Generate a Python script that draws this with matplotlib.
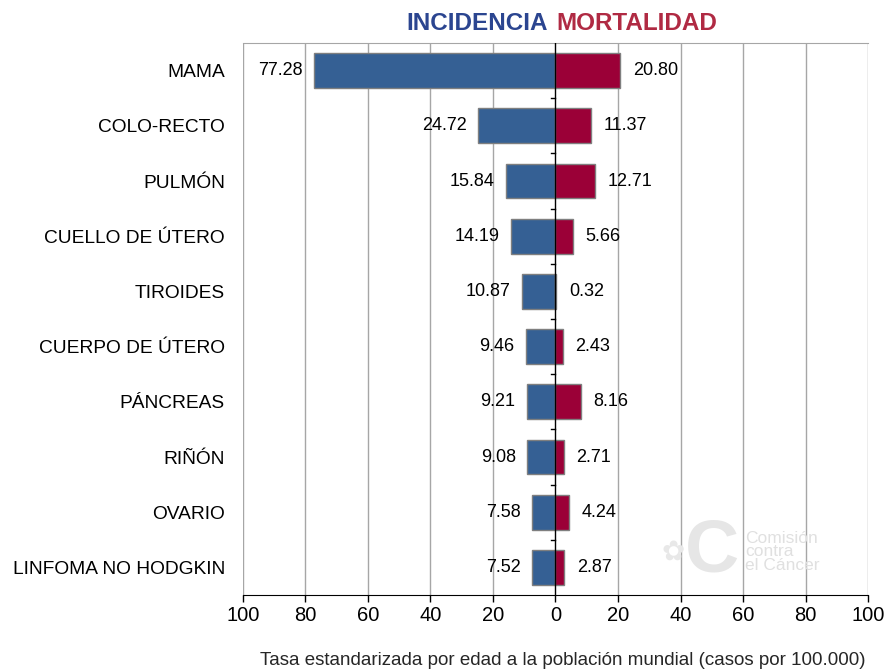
import matplotlib

matplotlib.use("Agg")
import matplotlib.pyplot as plt
import numpy as np

plt.rcParams["font.family"] = ["Liberation Sans", "DejaVu Sans"]

cancers = [
    "MAMA", "COLO-RECTO", "PULMÓN", "CUELLO DE ÚTERO", "TIROIDES",
    "CUERPO DE ÚTERO", "PÁNCREAS", "RIÑÓN", "OVARIO", "LINFOMA NO HODGKIN",
]
incidencia = [77.28, 24.72, 15.84, 14.19, 10.87, 9.46, 9.21, 9.08, 7.58, 7.52]
mortalidad = [20.80, 11.37, 12.71, 5.66, 0.32, 2.43, 8.16, 2.71, 4.24, 2.87]
xticks = [-100, -80, -60, -40, -20, 0, 20, 40, 60, 80, 100]

blue = "#356094"
red = "#9b0037"

fig = plt.figure(figsize=(8.89, 6.69), dpi=100)
ax = fig.add_axes([0.2733, 0.1106, 0.7031, 0.8251])

y = np.arange(len(cancers))
ax.barh(y, [-v for v in incidencia], height=0.63, color=blue,
        edgecolor="#7f7f7f", linewidth=1, zorder=3)
ax.barh(y, mortalidad, height=0.63, color=red,
        edgecolor="#7f7f7f", linewidth=1, zorder=3)

for yi, v in zip(y, incidencia):
    ax.text(-v - 3.6, yi, f"{v:.2f}", ha="right", va="center", fontsize=13, zorder=4)
for yi, v in zip(y, mortalidad):
    ax.text(v + 4, yi, f"{v:.2f}", ha="left", va="center", fontsize=13, zorder=4)

ax.set_xlim(-100, 100)
ax.set_ylim(len(cancers) - 0.5, -0.5)
ax.set_xticks(xticks)
ax.set_xticklabels([str(abs(t)) for t in xticks], fontsize=14.5)
ax.tick_params(axis="x", direction="out", length=5, width=1, pad=3)
ax.set_yticks(y)
ax.set_yticklabels(cancers, fontsize=13.8)
ax.tick_params(axis="y", length=0, pad=13)

for t in xticks:
    if t != 0:
        ax.axvline(t, color="#a6a6a6", linewidth=1, zorder=1)
ax.axvline(0, color="black", linewidth=1, zorder=5)
# small ticks on the centre line between categories
for b in np.arange(-0.5, len(cancers) + 0.5, 1.0)[1:-1]:
    ax.plot([-1.5, 0], [b, b], color="black", linewidth=1, zorder=5)

for side in ["left", "right"]:
    ax.spines[side].set_visible(False)
ax.spines["top"].set_color("#a6a6a6")
ax.spines["bottom"].set_color("black")

fig.text(0.974, 0.013, "Tasa estandarizada por edad a la población mundial (casos por 100.000)",
         ha="right", va="center", fontsize=13.5, color="#262626")

fig.text(0.6164, 0.965, "INCIDENCIA", ha="right", va="center", fontsize=17.5,
         fontweight="bold", color="#2b4590")
fig.text(0.6254, 0.965, "MORTALIDAD", ha="left", va="center", fontsize=17.5,
         fontweight="bold", color="#b02a43")

# watermark
fig.text(0.757, 0.175, "✿", ha="center", va="center", fontsize=20,
         color="#e8e8e8", family="DejaVu Sans", zorder=0)
fig.text(0.801, 0.175, "C", ha="center", va="center", fontsize=54,
         fontweight="bold", color="#e6e6e6", zorder=0)
fig.text(0.838, 0.175, "Comisión\ncontra\nel Cáncer", ha="left", va="center",
         fontsize=12.5, color="#e0e0e0", linespacing=0.85, zorder=0)

fig.savefig("out.png", dpi=100)
